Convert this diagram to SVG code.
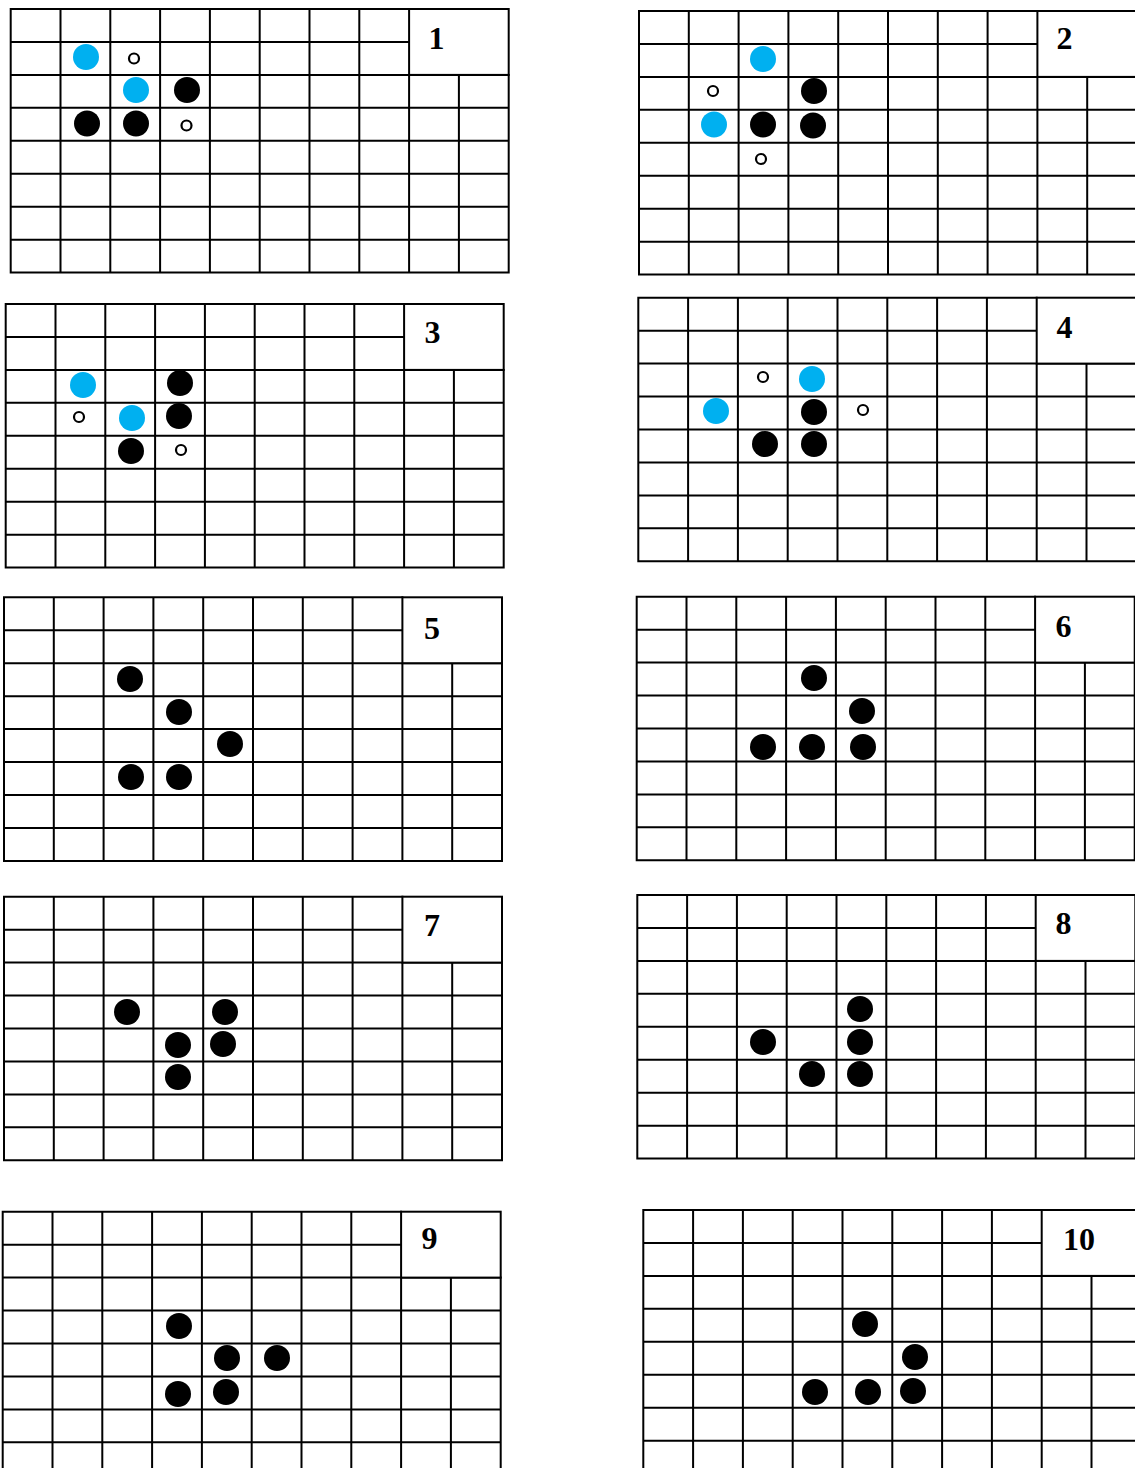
<svg xmlns="http://www.w3.org/2000/svg" xmlns:xlink="http://www.w3.org/1999/xlink" width="1135" height="1468" viewBox="0 0 1135 1468">
<style>
.grid{fill:none;stroke:#000;stroke-width:2;stroke-linecap:square}
.box{fill:#fff;stroke:#000;stroke-width:2}
.lbl{font-family:"Liberation Serif","Times New Roman",serif;font-weight:bold;font-size:32px;fill:#000;text-anchor:middle}
.blk{fill:#000}
.blu{fill:#00B0F0}
.ring{fill:#fff;stroke:#000;stroke-width:2.2}
</style>
<defs>
<g id="board">
<path class="grid" d="M0 0H398.4 M0 32.95H398.4 M0 65.9H498 M0 98.85H498 M0 131.8H498 M0 164.75H498 M0 197.7H498 M0 230.65H498 M0 263.6H498
M0 0V263.6 M49.8 0V263.6 M99.6 0V263.6 M149.4 0V263.6 M199.2 0V263.6 M249 0V263.6 M298.8 0V263.6 M348.6 0V263.6 M398.4 65.9V263.6 M448.2 65.9V263.6 M498 65.9V263.6"/>
<rect class="box" x="398.4" y="0" width="99.6" height="65.9"/>
</g>
</defs>
<rect width="1135" height="1468" fill="#fff"/>

<g id="panel-1">
<use href="#board" xlink:href="#board" x="10.7" y="9"/>
<text class="lbl" x="436.5" y="49">1</text>
<circle class="blu" cx="86" cy="57" r="13"/>
<circle class="ring" cx="134" cy="58.5" r="5"/>
<circle class="blu" cx="136" cy="90" r="13"/>
<circle class="blk" cx="187" cy="90" r="13"/>
<circle class="blk" cx="87" cy="123.5" r="13"/>
<circle class="blk" cx="136" cy="123.5" r="13"/>
<circle class="ring" cx="186.5" cy="125.5" r="5"/>
</g>

<g id="panel-2">
<use href="#board" xlink:href="#board" x="639" y="11"/>
<text class="lbl" x="1064.5" y="49">2</text>
<circle class="blu" cx="763" cy="59" r="13"/>
<circle class="ring" cx="713" cy="91" r="5"/>
<circle class="blk" cx="814" cy="91" r="13"/>
<circle class="blu" cx="714" cy="124.5" r="13"/>
<circle class="blk" cx="763" cy="124.5" r="13"/>
<circle class="blk" cx="813" cy="125.5" r="13"/>
<circle class="ring" cx="761" cy="159" r="5"/>
</g>

<g id="panel-3">
<use href="#board" xlink:href="#board" x="5.7" y="304"/>
<text class="lbl" x="432.5" y="343">3</text>
<circle class="blu" cx="83" cy="385" r="13"/>
<circle class="blk" cx="180" cy="383" r="13"/>
<circle class="ring" cx="79" cy="417" r="5"/>
<circle class="blu" cx="132" cy="418" r="13"/>
<circle class="blk" cx="179" cy="416" r="13"/>
<circle class="blk" cx="131" cy="451" r="13"/>
<circle class="ring" cx="181" cy="450" r="5"/>
</g>

<g id="panel-4">
<use href="#board" xlink:href="#board" x="638.3" y="297.7"/>
<text class="lbl" x="1064.5" y="338">4</text>
<circle class="ring" cx="763" cy="377" r="5"/>
<circle class="blu" cx="812" cy="379" r="13"/>
<circle class="blu" cx="716" cy="411" r="13"/>
<circle class="blk" cx="814" cy="412" r="13"/>
<circle class="ring" cx="863" cy="410" r="5"/>
<circle class="blk" cx="765" cy="444" r="13"/>
<circle class="blk" cx="814" cy="444" r="13"/>
</g>

<g id="panel-5">
<use href="#board" xlink:href="#board" x="4" y="597.3"/>
<text class="lbl" x="432" y="639">5</text>
<circle class="blk" cx="130" cy="679" r="13"/>
<circle class="blk" cx="179" cy="712" r="13"/>
<circle class="blk" cx="230" cy="744" r="13"/>
<circle class="blk" cx="131" cy="777" r="13"/>
<circle class="blk" cx="179" cy="777" r="13"/>
</g>

<g id="panel-6">
<use href="#board" xlink:href="#board" x="636.7" y="596.7"/>
<text class="lbl" x="1063.5" y="637">6</text>
<circle class="blk" cx="814" cy="678" r="13"/>
<circle class="blk" cx="862" cy="711" r="13"/>
<circle class="blk" cx="763" cy="747" r="13"/>
<circle class="blk" cx="812" cy="747" r="13"/>
<circle class="blk" cx="863" cy="747" r="13"/>
</g>

<g id="panel-7">
<use href="#board" xlink:href="#board" x="4" y="896.7"/>
<text class="lbl" x="432" y="936">7</text>
<circle class="blk" cx="127" cy="1012" r="13"/>
<circle class="blk" cx="225" cy="1012" r="13"/>
<circle class="blk" cx="178" cy="1045" r="13"/>
<circle class="blk" cx="223" cy="1044" r="13"/>
<circle class="blk" cx="178" cy="1077" r="13"/>
</g>

<g id="panel-8">
<use href="#board" xlink:href="#board" x="637.3" y="895"/>
<text class="lbl" x="1063.5" y="934">8</text>
<circle class="blk" cx="860" cy="1009" r="13"/>
<circle class="blk" cx="763" cy="1042" r="13"/>
<circle class="blk" cx="860" cy="1042" r="13"/>
<circle class="blk" cx="812" cy="1074" r="13"/>
<circle class="blk" cx="860" cy="1074" r="13"/>
</g>

<g id="panel-9">
<use href="#board" xlink:href="#board" x="2.7" y="1211.7"/>
<text class="lbl" x="429.5" y="1249">9</text>
<circle class="blk" cx="179" cy="1326" r="13"/>
<circle class="blk" cx="227" cy="1358" r="13"/>
<circle class="blk" cx="277" cy="1358" r="13"/>
<circle class="blk" cx="178" cy="1394" r="13"/>
<circle class="blk" cx="226" cy="1392" r="13"/>
</g>

<g id="panel-10">
<use href="#board" xlink:href="#board" x="643.3" y="1210"/>
<text class="lbl" x="1079" y="1250">10</text>
<circle class="blk" cx="865" cy="1324" r="13"/>
<circle class="blk" cx="915" cy="1357" r="13"/>
<circle class="blk" cx="815" cy="1392" r="13"/>
<circle class="blk" cx="868" cy="1392" r="13"/>
<circle class="blk" cx="913" cy="1391" r="13"/>
</g>
</svg>
